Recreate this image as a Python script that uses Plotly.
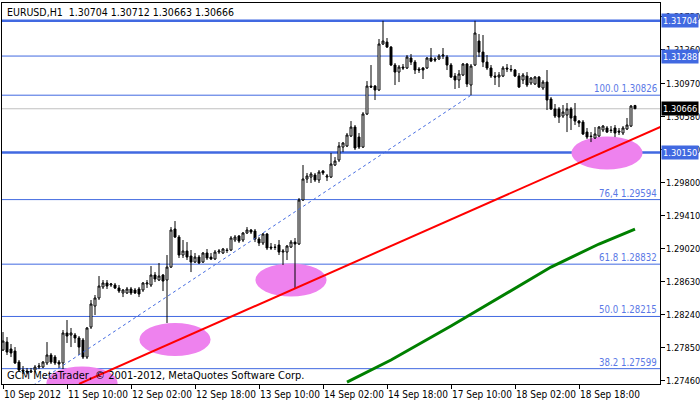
import plotly.graph_objects as go

symbol = "EURUSD,H1"

opens = [1.27819,1.27913,1.27831,1.27807,1.27677,1.27583,1.27571,1.27559,1.27583,1.27618,
 1.27618,1.27666,1.27760,1.27736,1.27677,1.27666,1.28020,1.27996,1.27996,1.27961,
 1.27937,1.27736,1.28090,1.28338,1.28433,1.28563,1.28610,1.28586,1.28586,1.28551,
 1.28492,1.28492,1.28539,1.28527,1.28539,1.28527,1.28598,1.28586,1.28704,1.28645,
 1.28704,1.28645,1.28798,1.29247,1.29152,1.28940,1.28987,1.28928,1.28857,1.28916,
 1.28857,1.28964,1.28916,1.28893,1.28975,1.28964,1.28999,1.28999,1.29117,1.29164,
 1.29117,1.29200,1.29235,1.29223,1.29129,1.29082,1.29188,1.29034,1.29034,1.29058,
 1.28975,1.28975,1.29034,1.29093,1.29070,1.29589,1.29837,1.29860,1.29884,1.29825,
 1.29931,1.29860,1.29860,1.30002,1.30061,1.30214,1.30226,1.30344,1.30450,1.30332,
 1.30214,1.30604,1.30934,1.30934,1.30887,1.31430,1.31453,1.31394,1.31182,1.31099,
 1.31158,1.31147,1.31265,1.31217,1.31135,1.31147,1.31147,1.31265,1.31253,1.31253,
 1.31288,1.31276,1.31182,1.31052,1.31005,1.31064,1.31194,1.30946,1.31182,1.31465,
 1.31335,1.31217,1.31147,1.31052,1.31040,1.31052,1.31147,1.31123,1.31123,1.31052,
 1.31005,1.31052,1.30970,1.30958,1.31040,1.30911,1.30981,1.30781,1.30663,1.30663,
 1.30580,1.30592,1.30663,1.30580,1.30521,1.30509,1.30391,1.30344,1.30321,1.30344,
 1.30415,1.30439,1.30415,1.30439,1.30403,1.30380,1.30427,1.30462,1.30704]

highs = [1.28031,1.27972,1.27890,1.27854,1.27701,1.27630,1.27607,1.27607,1.27642,1.27666,
 1.27689,1.27913,1.27784,1.27760,1.27701,1.28055,1.28173,1.28079,1.28020,1.27984,
 1.27961,1.28090,1.28409,1.28468,1.28692,1.28645,1.28645,1.28610,1.28610,1.28586,
 1.28539,1.28563,1.28563,1.28551,1.28563,1.28621,1.28645,1.28810,1.28739,1.28846,
 1.28716,1.28940,1.29270,1.29341,1.29176,1.29117,1.29093,1.28999,1.28964,1.28940,
 1.28975,1.29011,1.28964,1.28999,1.29011,1.29023,1.29023,1.29164,1.29176,1.29176,
 1.29211,1.29270,1.29247,1.29247,1.29152,1.29200,1.29200,1.29082,1.29070,1.29117,
 1.29011,1.29058,1.29117,1.29141,1.29613,1.30002,1.29908,1.29919,1.29908,1.29943,
 1.29943,1.29896,1.30144,1.30096,1.30273,1.30273,1.30380,1.30521,1.30474,1.30380,
 1.30627,1.30993,1.31182,1.30946,1.31489,1.31704,1.31501,1.31406,1.31206,1.31182,
 1.31194,1.31300,1.31312,1.31241,1.31158,1.31158,1.31276,1.31383,1.31276,1.31312,
 1.31383,1.31300,1.31206,1.31088,1.31123,1.31206,1.31206,1.31194,1.31704,1.31548,
 1.31536,1.31300,1.31182,1.31099,1.31099,1.31170,1.31194,1.31182,1.31135,1.31088,
 1.31088,1.31099,1.31040,1.31052,1.31052,1.31005,1.31123,1.30804,1.30722,1.30686,
 1.30710,1.30734,1.30686,1.30734,1.30533,1.30533,1.30439,1.30391,1.30450,1.30462,
 1.30474,1.30462,1.30462,1.30474,1.30439,1.30462,1.30557,1.30710,1.30712]

lows = [1.27807,1.27760,1.27736,1.27654,1.27559,1.27536,1.27536,1.27548,1.27559,1.27595,
 1.27607,1.27642,1.27654,1.27642,1.27607,1.27595,1.27902,1.27854,1.27902,1.27760,
 1.27713,1.27713,1.28067,1.28232,1.28409,1.28539,1.28539,1.28563,1.28539,1.28492,
 1.28444,1.28480,1.28468,1.28480,1.28444,1.28504,1.28551,1.28563,1.28621,1.28633,
 1.28515,1.28138,1.28787,1.29141,1.28905,1.28905,1.28881,1.28739,1.28846,1.28834,
 1.28846,1.28881,1.28881,1.28881,1.28952,1.28952,1.28964,1.28987,1.29093,1.29082,
 1.29093,1.29188,1.29188,1.29093,1.29046,1.29058,1.28999,1.28999,1.28999,1.28940,
 1.28822,1.28881,1.29023,1.28539,1.29058,1.29577,1.29790,1.29790,1.29802,1.29790,
 1.29884,1.29813,1.29849,1.29990,1.30037,1.30155,1.30214,1.30332,1.30179,1.30191,
 1.30203,1.30592,1.30911,1.30769,1.30875,1.31418,1.31383,1.31170,1.30946,1.30981,
 1.31123,1.31135,1.31182,1.31076,1.31088,1.31017,1.31135,1.31217,1.31217,1.31241,
 1.31253,1.31123,1.31029,1.30899,1.30911,1.31052,1.30922,1.30826,1.31170,1.31276,
 1.31158,1.31123,1.31029,1.30946,1.30922,1.31040,1.31099,1.31099,1.31040,1.30911,
 1.30958,1.30922,1.30946,1.30946,1.30911,1.30887,1.30651,1.30651,1.30557,1.30498,
 1.30557,1.30391,1.30415,1.30474,1.30450,1.30356,1.30309,1.30273,1.30309,1.30332,
 1.30391,1.30380,1.30380,1.30332,1.30356,1.30356,1.30415,1.30450,1.30663]

closes = [1.27925,1.27795,1.27784,1.27666,1.27583,1.27571,1.27559,1.27571,1.27618,1.27630,
 1.27677,1.27760,1.27677,1.27666,1.27654,1.28020,1.27984,1.28020,1.27961,1.27854,
 1.27736,1.28079,1.28362,1.28433,1.28574,1.28610,1.28574,1.28598,1.28551,1.28515,
 1.28527,1.28539,1.28492,1.28492,1.28480,1.28610,1.28610,1.28704,1.28657,1.28692,
 1.28633,1.28798,1.29235,1.29152,1.28940,1.28987,1.28916,1.28857,1.28916,1.28846,
 1.28964,1.28905,1.28893,1.28975,1.28987,1.29011,1.28993,1.29141,1.29152,1.29105,
 1.29200,1.29235,1.29211,1.29129,1.29082,1.29188,1.29023,1.29023,1.29030,1.28975,
 1.28987,1.29046,1.29093,1.29070,1.29589,1.29837,1.29872,1.29896,1.29825,1.29919,
 1.29908,1.29872,1.30014,1.30049,1.30226,1.30262,1.30356,1.30450,1.30203,1.30214,
 1.30604,1.30934,1.30922,1.30887,1.31430,1.31465,1.31394,1.31182,1.31099,1.31158,
 1.31147,1.31276,1.31217,1.31123,1.31123,1.31123,1.31265,1.31229,1.31241,1.31288,
 1.31300,1.31182,1.31040,1.31005,1.31076,1.31194,1.30958,1.31170,1.31560,1.31335,
 1.31217,1.31147,1.31052,1.31040,1.31064,1.31147,1.31135,1.31130,1.31052,1.30922,
 1.31064,1.30946,1.31029,1.31040,1.30922,1.30981,1.30769,1.30663,1.30580,1.30568,
 1.30627,1.30663,1.30557,1.30521,1.30498,1.30368,1.30332,1.30338,1.30368,1.30450,
 1.30462,1.30391,1.30409,1.30380,1.30391,1.30439,1.30474,1.30698,1.30666]

bars = list(range(len(closes)))

# time axis labels (one every 16 bars)
tick_bars = [0, 16, 32, 48, 64, 80, 96, 112, 128, 144]
tick_labels = ["10 Sep 2012", "11 Sep 10:00", "12 Sep 02:00", "12 Sep 18:00", "13 Sep 10:00",
               "14 Sep 02:00", "14 Sep 18:00", "17 Sep 10:00", "18 Sep 02:00", "18 Sep 18:00"]

# price axis labels
price_ticks = [1.27460, 1.27850, 1.28240, 1.28630, 1.29020, 1.29410,
               1.29800, 1.30190, 1.30580, 1.30970, 1.31360, 1.31750]

# horizontal line objects
hline_prices = [1.31704, 1.31288, 1.30150]
hline_widths = [2.5, 1, 2.5]
current_price = 1.30666

# fibonacci retracement
fib_levels = ["100.0", "76,4", "61.8", "50.0", "38.2"]
fib_prices = [1.30826, 1.29594, 1.28832, 1.28215, 1.27599]
fib_anchor_bars = [-50, 117]
fib_anchor_prices = [1.25604, 1.30826]

# red trendline anchors
trend_bars = [19, 165]
trend_prices = [1.27419, 1.30466]

# green moving average (read at sample bars)
ma_bars = [86, 97, 112, 124, 137, 149, 158]
ma_values = [1.27441, 1.27701, 1.28102, 1.28433, 1.28798, 1.29070, 1.29247]

# ellipses: center bar, center price
ell_bars = [19.75, 43, 72, 151]
ell_prices = [1.27430, 1.27943, 1.28645, 1.30144]
ell_half_bars = 8.9
ell_half_price = 0.00195

FONT = "Tahoma, 'DejaVu Sans Condensed', 'Liberation Sans', sans-serif"
BLUE = "#4169E1"
AXFONT = 9.2

fig = go.Figure()

fig.add_trace(go.Scatter(x=fib_anchor_bars, y=fib_anchor_prices, mode="lines",
                         line=dict(color=BLUE, width=1, dash="dot"), hoverinfo="skip"))
fig.add_trace(go.Scatter(x=ma_bars, y=ma_values, mode="lines",
                         line=dict(color="#008000", width=3), hoverinfo="skip"))
fig.add_trace(go.Scatter(x=trend_bars, y=trend_prices, mode="lines",
                         line=dict(color="#FF0000", width=2), hoverinfo="skip"))

fig.add_trace(go.Candlestick(
    x=bars, open=opens, high=highs, low=lows, close=closes,
    increasing=dict(line=dict(color="black", width=1), fillcolor="white"),
    decreasing=dict(line=dict(color="black", width=1), fillcolor="black"),
    whiskerwidth=0, hoverinfo="skip"))

shapes = []
for b, p in zip(ell_bars, ell_prices):
    shapes.append(dict(type="circle", xref="x", yref="y",
                       x0=b - ell_half_bars, x1=b + ell_half_bars,
                       y0=p - ell_half_price, y1=p + ell_half_price,
                       fillcolor="#EE82EE", line=dict(width=0), layer="below"))
shapes.append(dict(type="line", xref="paper", yref="y", x0=0, x1=1,
                   y0=current_price, y1=current_price,
                   line=dict(color="#C0C0C0", width=1), layer="below"))
for p, w in zip(hline_prices, hline_widths):
    shapes.append(dict(type="line", xref="paper", yref="y", x0=0, x1=1, y0=p, y1=p,
                       line=dict(color=BLUE, width=w), layer="below"))
for p in fib_prices:
    shapes.append(dict(type="line", xref="paper", yref="y", x0=0, x1=1, y0=p, y1=p,
                       line=dict(color=BLUE, width=1), layer="below"))

annotations = []
# price scale labels (left aligned next to the tick marks, as in MetaTrader)
for v in price_ticks:
    annotations.append(dict(xref="paper", yref="y", x=1, y=v, xanchor="left", yanchor="middle",
                            xshift=4, showarrow=False, text=f"{v:.5f}",
                            font=dict(family=FONT, size=AXFONT, color="black")))
for lvl, p in zip(fib_levels, fib_prices):
    annotations.append(dict(xref="paper", yref="y", x=1, y=p, xanchor="right", yanchor="bottom",
                            xshift=-1, yshift=-1, showarrow=False,
                            text=f"{lvl} {p:.5f}", font=dict(family=FONT, size=9.6, color="#5A78E6")))
for p in hline_prices:
    annotations.append(dict(xref="paper", yref="y", x=1, y=p, xanchor="left", yanchor="middle",
                            xshift=1, showarrow=False, bgcolor=BLUE, borderpad=1,
                            text=f"{p:.5f}", font=dict(family=FONT, size=AXFONT, color="white")))
annotations.append(dict(xref="paper", yref="y", x=1, y=current_price, xanchor="left", yanchor="middle",
                        xshift=1, showarrow=False, bgcolor="black", borderpad=1,
                        text=f"{current_price:.5f}", font=dict(family=FONT, size=AXFONT, color="white")))
for b, lab in zip(tick_bars, tick_labels):
    annotations.append(dict(xref="x", yref="paper", x=b, y=0, xanchor="left", yanchor="top",
                            xshift=-1, yshift=-3, showarrow=False, text=lab,
                            font=dict(family=FONT, size=10, color="black")))
annotations.append(dict(xref="paper", yref="paper", x=0, y=1, xanchor="left", yanchor="top",
                        xshift=3, yshift=-1, showarrow=False,
                        text=f"{symbol}  {opens[-1]:.5f} {highs[-1]:.5f} {lows[-1]:.5f} {closes[-1]:.5f}",
                        font=dict(family=FONT, size=10.5, color="black")))
annotations.append(dict(xref="paper", yref="paper", x=0, y=0, xanchor="left", yanchor="bottom",
                        xshift=3, yshift=0, showarrow=False,
                        text="GCM MetaTrader, © 2001-2012, MetaQuotes Software Corp.",
                        font=dict(family=FONT, size=11, color="black")))

fig.update_layout(
    width=700, height=402,
    margin=dict(l=2, r=40, t=3, b=18, autoexpand=False),
    paper_bgcolor="white", plot_bgcolor="white",
    showlegend=False,
    shapes=shapes, annotations=annotations,
    font=dict(family=FONT, size=10, color="black"),
    xaxis=dict(range=[-0.25, 164.25], rangeslider=dict(visible=False), showgrid=False,
               zeroline=False, tickmode="array", tickvals=tick_bars, showticklabels=False,
               ticks="outside", ticklen=4, tickcolor="black", automargin=False,
               showline=True, linecolor="black", linewidth=1, mirror=True),
    yaxis=dict(range=[1.27418, 1.31914], side="right", showgrid=False, zeroline=False,
               tickmode="array", tickvals=price_ticks, showticklabels=False,
               ticks="outside", ticklen=4, tickcolor="black", automargin=False,
               showline=True, linecolor="black", linewidth=1, mirror=True),
)

fig.write_html("out.html", config={"displayModeBar": False},
               post_script="document.body.style.margin='0px';document.body.style.overflow='hidden';")
